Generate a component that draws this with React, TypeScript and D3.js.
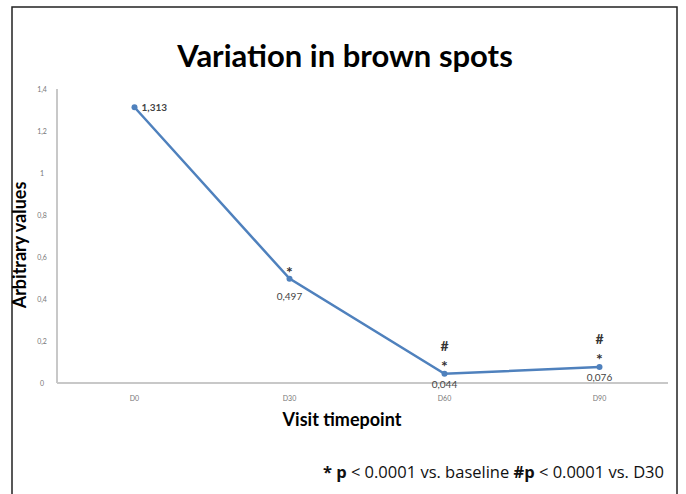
import React from "react";
import * as d3 from "d3";

const categories = ["D0", "D30", "D60", "D90"];
const values = [1.313, 0.497, 0.044, 0.076];
const valueLabels = ["1,313", "0,497", "0,044", "0,076"];
const sigStar = [false, true, true, true];
const sigHash = [false, false, true, true];
const yTicks = [0, 0.2, 0.4, 0.6, 0.8, 1, 1.2, 1.4];
const yTickLabels = ["0", "0,2", "0,4", "0,6", "0,8", "1", "1,2", "1,4"];

const W = 686;
const H = 494;

export default function App() {
  const x = d3.scaleBand<string>().domain(categories).range([57, 677]);
  const y = d3.scaleLinear().domain([0, 1.4]).range([383, 89]);
  const cx = (c: string) => (x(c) as number) + x.bandwidth() / 2;
  const line = d3
    .line<number>()
    .x((_, i) => cx(categories[i]))
    .y((d) => y(d));

  const labelOffsets = [
    { dx: 7, dy: 3.5, anchor: "start" },
    { dx: 0, dy: 21, anchor: "middle" },
    { dx: 0, dy: 14, anchor: "middle" },
    { dx: 0, dy: 14, anchor: "middle" },
  ];

  return (
    <svg width={W} height={H} style={{ position: "absolute", left: 0, top: 0, background: "#fff" }}>
      <rect x={0} y={0} width={W} height={H} fill="#fff" />
      <rect x={12} y={7} width={665} height={520} fill="none" stroke="#222" strokeWidth={1.5} />
      <text x={345} y={67} textAnchor="middle" fontFamily="Lato, sans-serif" fontWeight="bold" fontSize={31} fill="#000">
        Variation in brown spots
      </text>
      <line x1={57} x2={57} y1={y(1.4)} y2={y(0)} stroke="#c8c8c8" strokeWidth={2} />
      <line x1={57} x2={668} y1={y(0)} y2={y(0)} stroke="#c8c8c8" strokeWidth={2} />
      {yTicks.map((t, i) => (
        <text key={t} x={42} y={y(t) + 2.5} textAnchor="middle" fontFamily="Lato, sans-serif" fontSize={7} fill="#777">
          {yTickLabels[i]}
        </text>
      ))}
      {categories.map((c) => (
        <text key={c} x={cx(c)} y={401} textAnchor="middle" fontFamily="Lato, sans-serif" fontSize={7} fill="#777">
          {c}
        </text>
      ))}
      <text
        transform={`translate(26,245) rotate(-90)`}
        textAnchor="middle"
        fontFamily="Lato, sans-serif"
        fontWeight="bold"
        fontSize={18}
        fill="#000"
      >
        Arbitrary values
      </text>
      <text x={342} y={426} textAnchor="middle" fontFamily="Lato, sans-serif" fontWeight="bold" fontSize={18} fill="#000">
        Visit timepoint
      </text>
      <path d={line(values) || ""} fill="none" stroke="#4f81bd" strokeWidth={2.5} />
      {values.map((v, i) => (
        <circle key={i} cx={cx(categories[i])} cy={y(v)} r={3} fill="#4f81bd" />
      ))}
      {values.map((v, i) => (
        <text
          key={"l" + i}
          x={cx(categories[i]) + labelOffsets[i].dx}
          y={y(v) + labelOffsets[i].dy}
          textAnchor={labelOffsets[i].anchor as any}
          fontFamily="Lato, sans-serif"
          fontWeight={i === 0 ? "bold" : "normal"}
          fontSize={10}
          fill="#444"
        >
          {valueLabels[i]}
        </text>
      ))}
      {values.map((v, i) =>
        sigStar[i] ? (
          <text key={"s" + i} x={cx(categories[i])} y={y(v) - (i === 1 ? 1 : 2)} textAnchor="middle" fontFamily="Lato, sans-serif" fontWeight="bold" fontSize={16} fill="#333">
            *
          </text>
        ) : null
      )}
      {values.map((v, i) =>
        sigHash[i] ? (
          <text key={"h" + i} x={cx(categories[i])} y={y(v) - 23} textAnchor="middle" fontFamily="Lato, sans-serif" fontWeight="bold" fontSize={14} fill="#333">
            #
          </text>
        ) : null
      )}
      <text x={664} y={478} textAnchor="end" fontFamily="'Open Sans', sans-serif" fontSize={16.5} fill="#111">
        <tspan fontWeight="bold">* p</tspan>
        <tspan> &lt; 0.0001 vs. baseline </tspan>
        <tspan fontWeight="bold">#p</tspan>
        <tspan> &lt; 0.0001 vs. D30</tspan>
      </text>
    </svg>
  );
}
